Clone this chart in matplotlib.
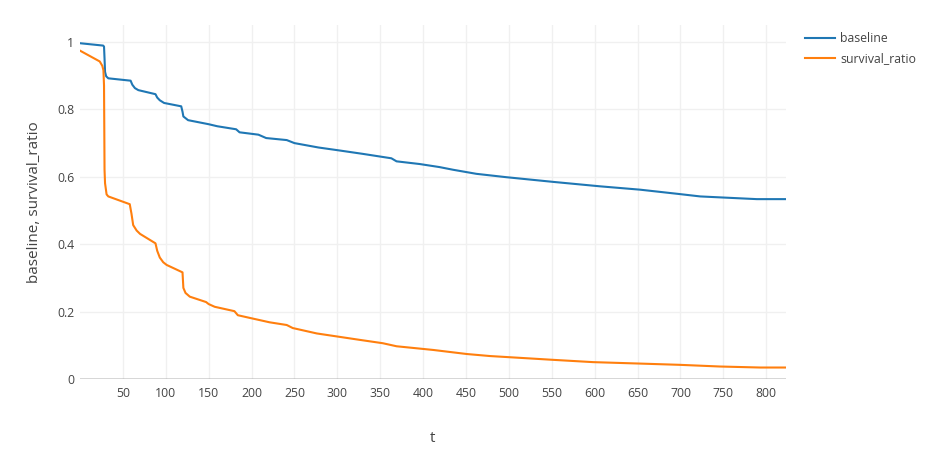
import matplotlib.pyplot as plt

# Values
baseline_t = [0, 27, 28, 28.6, 29.2, 30.5, 33, 59, 61, 64, 68, 88, 90, 93, 98,
              118, 119.5, 120.5, 126, 150, 160, 182, 186, 208, 217, 241, 250,
              278, 303, 330, 363, 369, 396, 419, 435, 462, 497, 552, 606, 653,
              699, 723, 789, 822]
baseline = [0.995, 0.988, 0.985, 0.95, 0.91, 0.897, 0.891, 0.884, 0.872, 0.862,
            0.856, 0.844, 0.834, 0.826, 0.818, 0.808, 0.792, 0.778, 0.767,
            0.755, 0.749, 0.740, 0.731, 0.724, 0.714, 0.708, 0.699, 0.686,
            0.677, 0.667, 0.654, 0.645, 0.637, 0.628, 0.620, 0.608, 0.598,
            0.584, 0.571, 0.561, 0.548, 0.541, 0.533, 0.533]

survival_t = [0, 23, 26, 27.3, 28, 28.3, 28.6, 29.2, 31, 33, 58, 60, 62, 66, 70,
              88, 90, 93, 97, 101, 119.5, 120.5, 123, 128, 147, 150, 157, 180,
              184, 198, 221, 241, 248, 276, 326, 353, 369, 412, 451, 478, 524,
              550, 598, 649, 699, 746, 793, 822]
survival_ratio = [0.973, 0.941, 0.928, 0.915, 0.87, 0.75, 0.62, 0.58, 0.547,
                  0.541, 0.518, 0.490, 0.456, 0.440, 0.430, 0.402, 0.380, 0.360,
                  0.346, 0.338, 0.316, 0.270, 0.255, 0.244, 0.228, 0.222, 0.214,
                  0.201, 0.189, 0.181, 0.168, 0.160, 0.151, 0.135, 0.116, 0.106,
                  0.097, 0.086, 0.074, 0.068, 0.061, 0.057, 0.050, 0.046, 0.042,
                  0.037, 0.034, 0.034]

x_ticks = list(range(50, 801, 50))
y_ticks = [0, 0.2, 0.4, 0.6, 0.8, 1]
y_tick_labels = ['0', '0.2', '0.4', '0.6', '0.8', '1']

plt.rcParams['font.family'] = ['Open Sans', 'DejaVu Sans']
text_color = '#444444'

fig = plt.figure(figsize=(9.33, 4.66), dpi=100)
ax = fig.add_axes([80 / 933, 1 - 379 / 466, 706 / 933, 354 / 466])

ax.plot(baseline_t, baseline, color='#1f77b4', lw=1.5, label='baseline')
ax.plot(survival_t, survival_ratio, color='#ff7f0e', lw=1.5, label='survival_ratio')

ax.set_xlim(0, 823)
ax.set_ylim(0, 1.049)
ax.set_xticks(x_ticks)
ax.set_yticks(y_ticks)
ax.set_yticklabels(y_tick_labels)
ax.grid(True, color='#f0f0f0', lw=1)
ax.set_axisbelow(True)
ax.axhline(0, color='#444444', lw=1, zorder=1)
for s in ax.spines.values():
    s.set_visible(False)
ax.tick_params(length=0, labelsize=8.8, colors=text_color)
ax.tick_params(axis='x', pad=6)
ax.tick_params(axis='y', pad=4)

ax.set_xlabel('t', fontsize=11, color=text_color)
ax.xaxis.set_label_coords(0.5, -0.167)
ax.xaxis.label.set_va('center')
ax.set_ylabel('baseline, survival_ratio', fontsize=11, color=text_color)
ax.yaxis.set_label_coords(-0.064, 0.5)
ax.yaxis.label.set_va('center')

leg = ax.legend(loc='upper left', bbox_to_anchor=(805 / 933, 1 - 32 / 466),
                bbox_transform=fig.transFigure, frameon=False, fontsize=8.8,
                handlelength=2.45, handletextpad=0.45, labelspacing=0.6,
                borderpad=0, borderaxespad=0)
for t in leg.get_texts():
    t.set_color(text_color)

plt.savefig('out.png', dpi=100)
plt.close()
